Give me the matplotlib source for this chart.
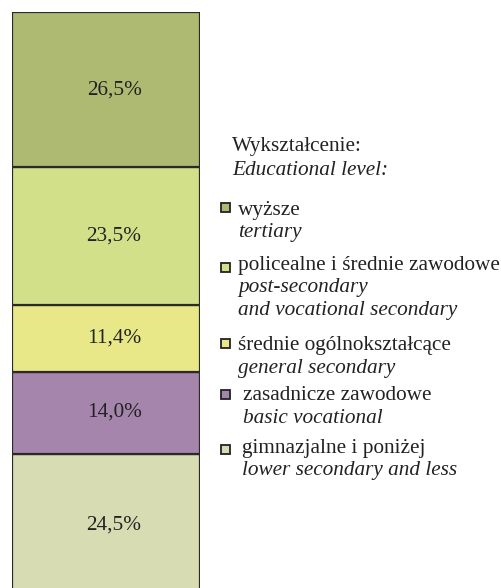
import matplotlib
matplotlib.use("Agg")
import matplotlib.pyplot as plt
from matplotlib.patches import Rectangle

categories_pl = ["gimnazjalne i poniżej", "zasadnicze zawodowe", "średnie ogólnokształcące",
                 "policealne i średnie zawodowe", "wyższe"]
categories_en = ["lower secondary and less", "basic vocational", "general secondary",
                 "post-secondary\nand vocational secondary", "tertiary"]
values = [24.5, 14.0, 11.4, 23.5, 26.5]
labels = ["24,5%", "14,0%", "11,4%", "23,5%", "26,5%"]
colors = ["#D7DCB3", "#A585AB", "#E8E888", "#D3E08A", "#AEBA72"]

plt.rcParams['font.family'] = ['Liberation Serif', 'DejaVu Serif']

W, H = 502, 588
FS = 15.3
TC = "#222222"
fig = plt.figure(figsize=(W / 100, H / 100), dpi=100)
ax = fig.add_axes([12 / W, -9 / H, 188 / W, (H - 12 + 9) / H])
bottom = 0
for v, lab, c in zip(values, labels, colors):
    ax.bar(0, v, bottom=bottom, width=1, color=c, edgecolor="#2a2a2a", linewidth=1.6)
    ax.text(0.043, bottom + v / 2, lab, ha="center", va="center", fontsize=FS, color=TC)
    bottom += v
ax.set_xlim(-0.5, 0.5)
ax.set_ylim(0, bottom)
ax.axis("off")

def fy(y):
    return 1 - y / H

fig.text(232 / W, fy(151), "Wykształcenie:", fontsize=FS, va="baseline", color=TC)
fig.text(232 / W, fy(175), "Educational level:", fontsize=FS, va="baseline", style="italic", color=TC)

# legend entries top-down: (marker top, text x, baselines of lines)
layout = [
    (203, 238, [215, 237]),
    (263, 238, [270, 292, 315]),
    (339, 238, [350, 373]),
    (390, 243, [400, 423]),
    (445, 242, [453, 475]),
]
for i, (mtop, tx, bls) in enumerate(layout):
    idx = len(values) - 1 - i
    fig.patches.append(Rectangle((221 / W, fy(mtop + 9)), 9 / W, 9 / H, transform=fig.transFigure,
                                 facecolor=colors[idx], edgecolor="#222222", linewidth=1.3))
    fig.text(tx / W, fy(bls[0]), categories_pl[idx], fontsize=FS, va="baseline", color=TC)
    for ln, bl in zip(categories_en[idx].split("\n"), bls[1:]):
        fig.text(tx / W, fy(bl), ln, fontsize=FS, va="baseline", style="italic", color=TC)

fig.savefig("out.png", dpi=100)
